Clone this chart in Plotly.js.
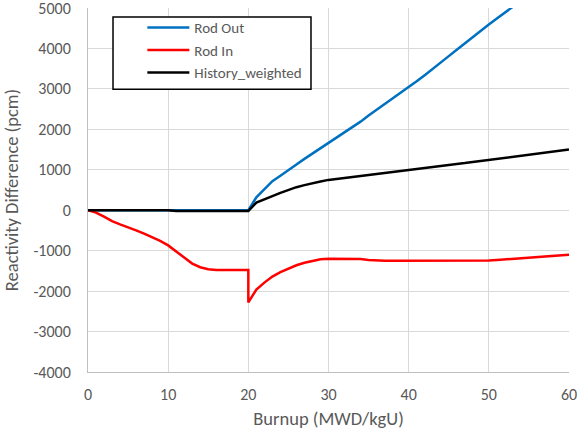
<!DOCTYPE html>
<html>
<head>
<meta charset="utf-8">
<script src="https://cdn.plot.ly/plotly-3.0.1.min.js"></script>
<style>html,body{margin:0;padding:0;background:#fff;}#chart{width:579px;height:434px;}</style>
</head>
<body>
<div id="chart"></div>
<script>
// Burnup (MWD/kgU)
const burnupOut = [0,5,10,15,20,21,22,23,24,25,26,27,28,29,30,31,32,33,34,35,36,37,38,39,40,41,42,43,44,45,46,47,48,49,50,51,52,53,54,55,56,57,58,59,60];
const rodOut    = [0,0,0,0,0,320,530,720,850,1000,1130,1270,1400,1530,1670,1800,1930,2060,2190,2340,2480,2620,2750,2890,3030,3190,3340,3490,3650,3810,3970,4130,4290,4440,4590,4740,4880,5020,5170,5320,5470,5620,5770,5920,6070];

const burnupIn = [0,1,2,3,4,5,6,7,8,9,10,11,12,13,14,15,16,17,18,19,20,20,21,22,23,24,25,26,27,28,29,30,31,32,33,34,35,36,37,38,39,40,41,42,43,44,45,46,47,48,49,50,51,52,53,54,55,56,57,58,59,60];
const rodIn    = [0,-60,-160,-270,-350,-420,-500,-580,-660,-760,-870,-1010,-1170,-1320,-1410,-1460,-1480,-1480,-1480,-1480,-1480,-2280,-1960,-1790,-1640,-1530,-1440,-1360,-1300,-1250,-1215,-1200,-1200,-1200,-1200,-1205,-1230,-1245,-1250,-1250,-1250,-1250,-1250,-1250,-1250,-1250,-1250,-1250,-1250,-1250,-1250,-1245,-1230,-1215,-1200,-1190,-1180,-1170,-1150,-1135,-1120,-1100];

const burnupHist = [0,5,10,11,15,20,21,22,23,24,25,26,27,28,29,30,31,32,33,34,35,36,37,38,39,40,41,42,43,44,45,46,47,48,49,50,51,52,53,54,55,56,57,58,59,60];
const histWeighted = [0,0,0,-20,-20,-20,190,280,350,430,500,570,620,670,710,750,775,800,825,860,880,900,930,950,970,1000,1020,1050,1075,1100,1120,1145,1165,1190,1215,1240,1260,1285,1310,1350,1370,1390,1410,1440,1470,1500];

const seriesNames = ['Rod Out','Rod In','History_weighted'];
const xTicks = [0,10,20,30,40,50,60];
const yTicks = [-4000,-3000,-2000,-1000,0,1000,2000,3000,4000,5000];

const FONT = 'Carlito, Calibri, Lato, sans-serif';
const GRAY = '#595959';

const traces = [
  {x: burnupOut, y: rodOut, name: seriesNames[0], mode: 'lines', line: {color: '#0070C0', width: 2.5}},
  {x: burnupIn, y: rodIn, name: seriesNames[1], mode: 'lines', line: {color: '#FF0000', width: 2.5}},
  {x: burnupHist, y: histWeighted, name: seriesNames[2], mode: 'lines', line: {color: '#000000', width: 2.5}}
];

const layout = {
  width: 579, height: 434,
  margin: {l: 88, r: 10, t: 8, b: 62, pad: 0},
  paper_bgcolor: '#fff', plot_bgcolor: '#fff',
  font: {family: FONT, size: 15, color: GRAY},
  showlegend: true,
  legend: {
    x: 0.113, y: 0.991, xanchor: 'left', yanchor: 'top',
    borderwidth: 0, bgcolor: 'rgba(0,0,0,0)',
    itemwidth: 42,
    font: {family: FONT, size: 15, color: GRAY},
    tracegroupgap: 0
  },
  shapes: [{
    type: 'rect', xref: 'paper', yref: 'paper',
    x0: 0.052, x1: 0.4636, y0: 0.777, y1: 0.975,
    line: {color: '#000', width: 1.5}, fillcolor: '#fff', layer: 'above'
  }],
  xaxis: {
    range: [0, 60], tickvals: xTicks, ticktext: xTicks.map(String),
    showgrid: true, gridcolor: '#d9d9d9', gridwidth: 1,
    zeroline: false, showline: true, linecolor: '#bfbfbf', linewidth: 1,
    ticks: '', ticklabelstandoff: 8, ticklabeloverflow: 'allow',
    tickfont: {family: FONT, size: 16, color: GRAY},
    title: {text: 'Burnup (MWD/kgU)', font: {family: FONT, size: 18.5, color: GRAY}, standoff: 8}
  },
  yaxis: {
    range: [-4000, 5000], tickvals: yTicks, ticktext: yTicks.map(String),
    showgrid: true, gridcolor: '#d9d9d9', gridwidth: 1,
    zeroline: false, showline: true, linecolor: '#bfbfbf', linewidth: 1,
    ticks: '', ticklabelstandoff: 13, ticklabeloverflow: 'allow',
    tickfont: {family: FONT, size: 16, color: GRAY},
    title: {text: 'Reactivity Difference (pcm)', font: {family: FONT, size: 18.5, color: GRAY}, standoff: 9}
  }
};

Plotly.newPlot('chart', traces, layout, {staticPlot: true, displayModeBar: false});
</script>
</body>
</html>
